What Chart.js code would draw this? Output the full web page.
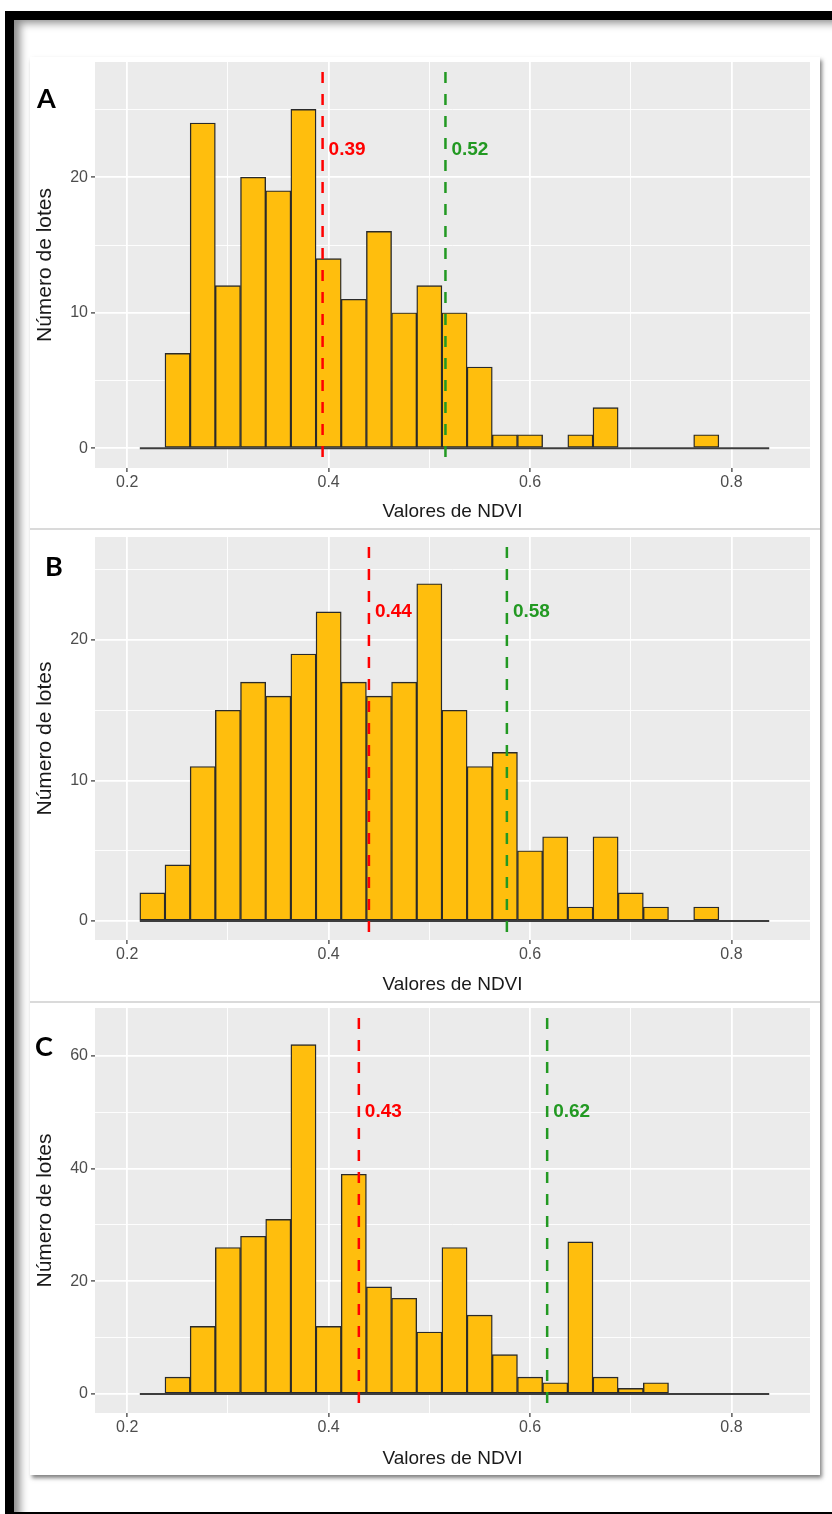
<!DOCTYPE html>
<html>
<head>
<meta charset="utf-8">
<script src="https://cdn.jsdelivr.net/npm/chart.js@4.4.1/dist/chart.umd.min.js"></script>
<style>
html,body{margin:0;padding:0;background:#fff;}
body{width:832px;height:1514px;overflow:hidden;position:relative;}
#frame{position:absolute;left:5px;top:11px;width:900px;height:1492px;border:9px solid #000;box-shadow:inset 10px 7px 9px -4px rgba(0,0,0,0.45);}
#box{position:absolute;left:30px;top:57px;width:790px;height:1418px;background:#fff;box-shadow:2px 3px 4px rgba(0,0,0,0.5);}
.sep{position:absolute;left:0;width:790px;height:2px;background:#dadada;}
canvas{position:absolute;left:0;}
.letter{position:absolute;font-family:Lato,'Open Sans',sans-serif;font-weight:700;font-size:27px;color:#000;line-height:1;}
</style>
</head>
<body>
<div id="frame"></div>
<div id="box">
  <canvas id="cA" width="790" height="471" style="top:0px"></canvas>
  <div class="sep" style="top:471px"></div>
  <canvas id="cB" width="790" height="471" style="top:473px"></canvas>
  <div class="sep" style="top:944px"></div>
  <canvas id="cC" width="790" height="472" style="top:946px"></canvas>
</div>
<div class="letter" style="left:37px;top:84px">A</div>
<div class="letter" style="left:45px;top:552px">B</div>
<div class="letter" style="left:35px;top:1032px">C</div>
<script>
// ---- data ----
const binCenters = [0.225,0.25,0.275,0.3,0.325,0.35,0.375,0.4,0.425,0.45,0.475,0.5,0.525,0.55,0.575,0.6,0.625,0.65,0.675,0.7,0.725,0.75,0.775,0.8,0.825];
const countsA = [0,7,24,12,20,19,25,14,11,16,10,12,10,6,1,1,0,1,3,0,0,0,1,0,0];
const countsB = [2,4,11,15,17,16,19,22,17,16,17,24,15,11,12,5,6,1,6,2,1,0,1,0,0];
const countsC = [0,3,12,26,28,31,62,12,39,19,17,11,26,14,7,3,2,27,3,1,2,0,0,0,0];
const redValues = [0.394, 0.440, 0.430];
const greenValues = [0.516, 0.577, 0.617];
const labelY = [22, 22, 50];
const xMajorTicks = [0.2, 0.4, 0.6, 0.8];
const xTickLabels = ['0.2', '0.4', '0.6', '0.8'];
const xMinorTicks = [0.3, 0.5, 0.7];
const yMajorA = [0, 10, 20], yMinorA = [5, 15, 25];
const yMajorB = [0, 10, 20], yMinorB = [5, 15, 25];
const yMajorC = [0, 20, 40, 60], yMinorC = [10, 30, 50];
const yTickLabelsA = ['0', '10', '20'];
const yTickLabelsB = ['0', '10', '20'];
const yTickLabelsC = ['0', '20', '40', '60'];
const xRange = [0.168, 0.878];
const yRangeA = [-1.45, 28.5], yRangeB = [-1.35, 27.33], yRangeC = [-3.37, 68.5];

Chart.defaults.font.family = "'Liberation Sans', Arial, sans-serif";
const BAR_FILL = '#FFBE0D';
const RED = '#FF0000';
const GREEN = '#229922';

const bgPlugin = {
  id: 'panelBg',
  beforeDraw(chart) {
    const {ctx, chartArea: a} = chart;
    ctx.save();
    ctx.fillStyle = '#EBEBEB';
    ctx.fillRect(a.left, a.top, a.right - a.left, a.bottom - a.top);
    ctx.restore();
  }
};
const vlinePlugin = {
  id: 'vlines',
  afterDatasetsDraw(chart, args, opts) {
    const {ctx, chartArea: a} = chart;
    const xs = chart.scales.x, ys = chart.scales.y;
    ctx.save();
    ctx.beginPath();
    ctx.rect(a.left, a.top, a.right - a.left, a.bottom - a.top);
    ctx.clip();
    opts.lines.forEach(l => {
      const px = xs.getPixelForValue(l.value);
      ctx.strokeStyle = l.color;
      ctx.lineWidth = 2.5;
      ctx.setLineDash([11, 11]);
      ctx.lineDashOffset = 12;
      ctx.beginPath();
      ctx.moveTo(px, a.top);
      ctx.lineTo(px, a.bottom);
      ctx.stroke();
      ctx.setLineDash([]);
      ctx.fillStyle = l.color;
      ctx.font = "bold 19px 'Liberation Sans', Arial, sans-serif";
      ctx.textAlign = 'left';
      ctx.textBaseline = 'middle';
      ctx.fillText(l.value.toFixed(2), px + 6, ys.getPixelForValue(opts.labelY));
    });
    ctx.restore();
  }
};

function makeChart(id, counts, yRange, yMajor, yMinor, yLabels, red, green, lblY, padTop, xHeight) {
  const barWidth = binCenters[1] - binCenters[0];
  const base = [
    {x: binCenters[0] - barWidth / 2, y: 0},
    {x: binCenters[binCenters.length - 1] + barWidth / 2, y: 0}
  ];
  return new Chart(document.getElementById(id), {
    type: 'bar',
    data: {
      datasets: [
        {type: 'line', data: base, borderColor: '#3c3c3c', borderWidth: 2, pointRadius: 0, order: 0},
        {type: 'bar', data: binCenters.map((c, i) => ({x: c, y: counts[i]})),
         backgroundColor: BAR_FILL, borderColor: '#2a2a2a', borderWidth: 1.4,
         borderSkipped: false, barPercentage: 1, categoryPercentage: 1, order: 1}
      ]
    },
    options: {
      responsive: false, animation: false, devicePixelRatio: 1,
      layout: {padding: {top: padTop, right: 10, left: 0, bottom: 0}},
      plugins: {legend: {display: false}, tooltip: {enabled: false},
        vlines: {lines: [{value: red, color: RED}, {value: green, color: GREEN}], labelY: lblY}},
      scales: {
        x: {
          type: 'linear', min: xRange[0], max: xRange[1], offset: false,
          afterBuildTicks: s => { s.ticks = [...xMajorTicks, ...xMinorTicks].sort((a, b) => a - b).map(v => ({value: v})); },
          afterFit: s => { s.height = xHeight; s.paddingLeft = 0; s.paddingRight = 0; },
          border: {display: false},
          grid: {
            offset: false,
            color: '#FFFFFF',
            lineWidth: c => (c.tick && xMajorTicks.includes(c.tick.value)) ? 1.8 : 0.9,
            tickColor: c => (c.tick && xMajorTicks.includes(c.tick.value)) ? '#333333' : 'rgba(0,0,0,0)',
            tickLength: 4, tickWidth: 1.2
          },
          ticks: {
            autoSkip: false, maxRotation: 0, padding: 1, color: '#4D4D4D', font: {size: 16},
            callback: v => { const k = xMajorTicks.indexOf(v); return k >= 0 ? xTickLabels[k] : ''; }
          },
          title: {display: true, text: 'Valores de NDVI', color: '#1A1A1A', font: {size: 19}, padding: {top: 0, bottom: 5}}
        },
        y: {
          type: 'linear', min: yRange[0], max: yRange[1],
          afterBuildTicks: s => { s.ticks = [...yMajor, ...yMinor].sort((a, b) => a - b).map(v => ({value: v})); },
          afterFit: s => { s.width = 65; s.paddingTop = 0; s.paddingBottom = 0; },
          border: {display: false},
          grid: {
            color: '#FFFFFF',
            lineWidth: c => (c.tick && yMajor.includes(c.tick.value)) ? 1.8 : 0.9,
            tickColor: c => (c.tick && yMajor.includes(c.tick.value)) ? '#333333' : 'rgba(0,0,0,0)',
            tickLength: 4, tickWidth: 1.2
          },
          ticks: {
            autoSkip: false, padding: 3, color: '#4D4D4D', font: {size: 16},
            callback: v => { const k = yMajor.indexOf(v); return k >= 0 ? yLabels[k] : ''; }
          },
          title: {display: true, text: 'Número de lotes', color: '#1A1A1A', font: {size: 21}, padding: {top: 2.4, bottom: 0}}
        }
      }
    },
    plugins: [bgPlugin, vlinePlugin]
  });
}

makeChart('cA', countsA, yRangeA, yMajorA, yMinorA, yTickLabelsA, redValues[0], greenValues[0], labelY[0], 5, 60);
makeChart('cB', countsB, yRangeB, yMajorB, yMinorB, yTickLabelsB, redValues[1], greenValues[1], labelY[1], 7, 61);
makeChart('cC', countsC, yRangeC, yMajorC, yMinorC, yTickLabelsC, redValues[2], greenValues[2], labelY[2], 5, 62);
</script>
</body>
</html>
